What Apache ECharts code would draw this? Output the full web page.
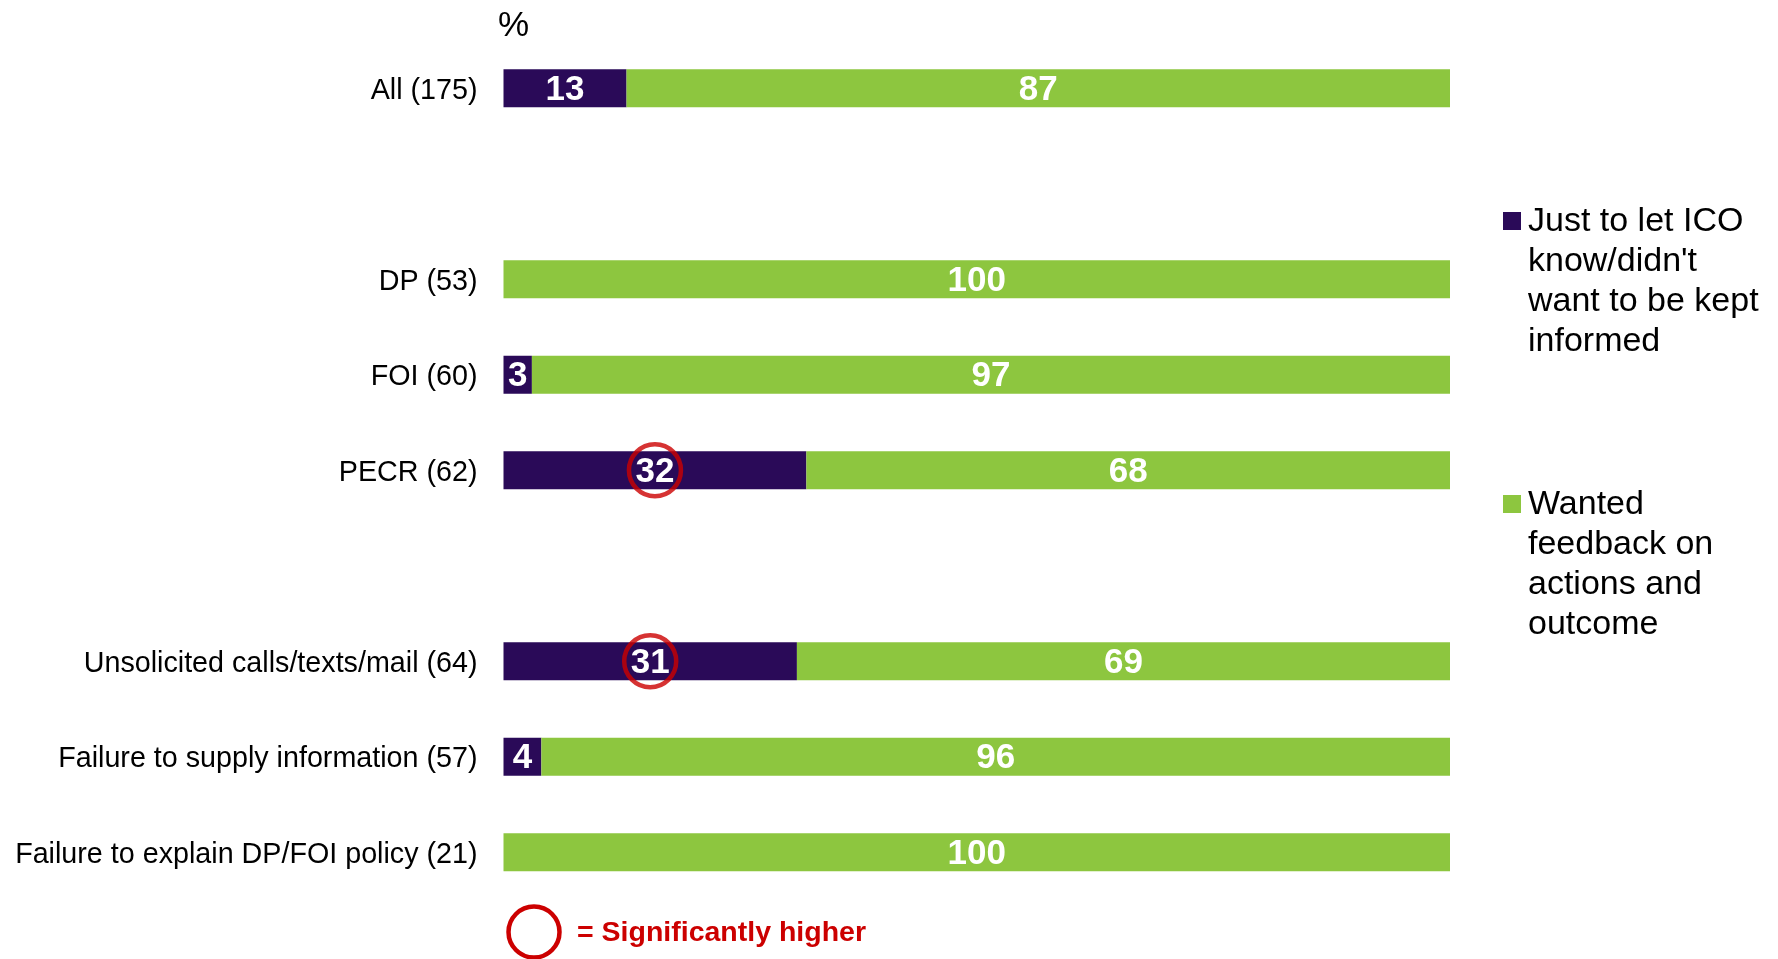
<!DOCTYPE html>
<html>
<head>
<meta charset="utf-8">
<style>
  html, body { margin: 0; padding: 0; background: #fff; }
  #chart { width: 1778px; height: 959px; }
</style>
<script src="https://cdn.jsdelivr.net/npm/echarts@6/dist/echarts.min.js"></script>
</head>
<body>
<div id="chart"></div>
<script>
// rows top to bottom; blank strings are spacer rows
var categories = ['All (175)', ' ', 'DP (53)', 'FOI (60)', 'PECR (62)', '  ',
  'Unsolicited calls/texts/mail (64)', 'Failure to supply information (57)',
  'Failure to explain DP/FOI policy (21)'];
var justLetKnow = [13, '-', 0, 3, 32, '-', 31, 4, 0];
var wantedFeedback = [87, '-', 100, 97, 68, '-', 69, 96, 100];
var significant = ['PECR (62)', 'Unsolicited calls/texts/mail (64)'];

var seriesNames = ["Just to let ICO\nknow/didn't\nwant to be kept\ninformed",
  'Wanted\nfeedback on\nactions and\noutcome'];

var PURPLE = '#2a0a58';
var GREEN = '#8dc63f';
var RED = '#cc0000';
var FONT = 'Liberation Sans, Arial, sans-serif';

var myChart = echarts.init(document.getElementById('chart'));

function barLabel() {
    return {
        show: true,
        position: 'inside',
        offset: [0, 2],
        color: '#fff',
        fontFamily: FONT,
        fontWeight: 'bold',
        fontSize: 35,
        formatter: function (p) {
            return p.value > 0 ? String(p.value) : '';
        }
    };
}

// ring markers sit in the middle of the purple segment
var rings = [];
categories.forEach(function (c, i) {
    if (significant.indexOf(c) !== -1) {
        rings.push([justLetKnow[i] / 2, i]);
    }
});

var option = {
    animation: false,
    title: {
        text: '%',
        left: 493,
        top: 4,
        textStyle: {fontFamily: FONT, fontWeight: 'normal', fontSize: 35, color: '#000'}
    },
    grid: {left: 503.5, right: 328, top: 40.5, height: 859.5},
    xAxis: {
        type: 'value',
        min: 0,
        max: 100,
        show: false
    },
    yAxis: {
        type: 'category',
        inverse: true,
        data: categories,
        axisLine: {show: false},
        axisTick: {show: false},
        splitLine: {show: false},
        axisLabel: {
            margin: 26,
            formatter: function (v) {
                return v.trim() ? '{c|' + v + '}' : '';
            },
            rich: {
                c: {
                    color: '#000',
                    fontFamily: FONT,
                    fontSize: 28.7,
                    lineHeight: 34,
                    padding: [5, 0, 0, 0]
                }
            }
        }
    },
    series: [
        {
            name: seriesNames[0],
            type: 'bar',
            stack: 'total',
            barWidth: 38,
            itemStyle: {color: PURPLE},
            label: barLabel(),
            data: justLetKnow
        },
        {
            name: seriesNames[1],
            type: 'bar',
            stack: 'total',
            barWidth: 38,
            itemStyle: {color: GREEN},
            label: barLabel(),
            data: wantedFeedback
        },
        {
            type: 'scatter',
            symbol: 'circle',
            symbolSize: 52,
            z: 5,
            itemStyle: {color: 'rgba(0,0,0,0)', borderColor: RED, borderWidth: 4.5},
            data: rings
        }
    ],
    graphic: [
        // legend
        {type: 'rect', left: 1503, top: 212, shape: {width: 18, height: 18}, style: {fill: PURPLE}},
        {type: 'text', left: 1528, top: 202,
            style: {text: seriesNames[0], fontFamily: FONT, fontSize: 34, lineHeight: 40, fill: '#000'}},
        {type: 'rect', left: 1503, top: 495, shape: {width: 18, height: 18}, style: {fill: GREEN}},
        {type: 'text', left: 1528, top: 485,
            style: {text: seriesNames[1], fontFamily: FONT, fontSize: 34, lineHeight: 40, fill: '#000'}},
        // significance key
        {type: 'circle', shape: {cx: 534, cy: 932, r: 25.5},
            style: {fill: 'none', stroke: RED, lineWidth: 4.5}},
        {type: 'text', left: 577, top: 915,
            style: {text: '= Significantly higher', fontFamily: FONT, fontWeight: 'bold',
                fontSize: 28.5, lineHeight: 36, fill: RED}}
    ]
};

myChart.setOption(option);
</script>
</body>
</html>
